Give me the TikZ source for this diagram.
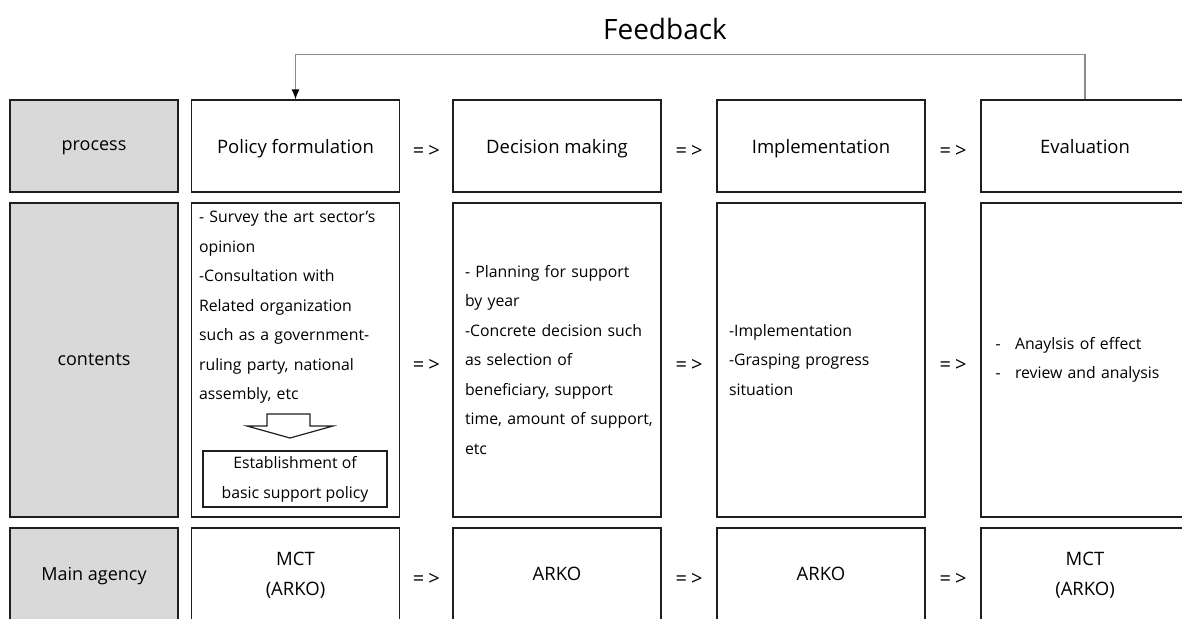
\documentclass[tikz,border=0pt]{standalone}
\usepackage{fontspec}
\setmainfont{Open Sans}
\usepackage{tikz}
\usetikzlibrary{arrows.meta,positioning,calc}

\definecolor{rowgray}{HTML}{D9D9D9}
\definecolor{fbgray}{HTML}{8C8C8C}
\definecolor{edge}{HTML}{1F1F1F}

\tikzset{
	headbox/.style={draw=edge, line width=1.2pt, fill=rowgray, minimum width=168pt, inner sep=0pt, text depth=0pt, font=\fontsize{18}{22}\selectfont},
	stagebox/.style={draw=edge, line width=1.2pt, fill=white, minimum width=208pt, minimum height=92pt, inner sep=0pt, text depth=0pt, align=center, font=\fontsize{18.5}{30}\selectfont},
	contbox/.style={draw=edge, line width=1.2pt, fill=white, minimum width=208pt, minimum height=314pt, text width=184pt, inner xsep=12pt, inner ysep=0pt, align=left, font=\fontsize{15.8}{29.5}\selectfont},
	flowsign/.style={inner sep=0pt, font=\fontsize{20}{20}\selectfont},
	fbline/.style={draw=fbgray, line width=1.2pt, -{Latex[black,length=10pt,width=8pt]}}
}

\begin{document}
\begin{tikzpicture}[x=1pt,y=-1pt]
	\clip (0,0) rectangle (1182,618);
	\node (fb) at (665,29) {\fontsize{28}{28}\selectfont Feedback};
	% left column
	\node[headbox, minimum height=92pt] (hproc) at (94,146) {process};
	\node[headbox, minimum height=314pt] (hcont) at (94,360) {contents};
	\node[headbox, minimum height=92pt] (hagent) at (94,574) {Main agency};
	% process row
	\node[stagebox] (pf) at (295.5,146) {Policy formulation};
	\node[stagebox] (dm) at (557,146) {Decision making};
	\node[stagebox] (im) at (821,146) {Implementation};
	\node[stagebox] (ev) at (1085,146) {Evaluation};
	% contents row
	\node[contbox] (cpf) at (295.5,360) {};
	\node[anchor=north west, inner sep=0pt, text width=190pt, align=left, font=\fontsize{15.8}{29.5}\selectfont] (tpf) at ($(cpf.north west)+(8,8)$)
		{- Survey the art sector’s\\opinion\\-Consultation with\\Related organization\\such as a government-\\ruling party, national\\assembly, etc};
	\draw[draw=edge, line width=1.2pt, fill=white] (267,414) -- (310,414) -- (310,426) -- (333,426) -- (290,438) -- (247,426) -- (267,426) -- cycle;
	\node[draw=edge, line width=1.2pt, minimum width=184pt, minimum height=56pt, inner sep=0pt, align=center, font=\fontsize{15.8}{30}\selectfont] (est) at (295,479) {Establishment of\\basic support policy};
	\node[contbox] (cdm) at (557,360) {- Planning for support\\by year\\-Concrete decision such\\as selection of\\beneficiary, support\\\mbox{time, amount of support,}\\etc};
	\node[contbox] (cim) at (821,360) {-Implementation\\-Grasping progress\\situation};
	\node[contbox] (cev) at (1085,360) {\makebox[22pt][l]{\,-}Anaylsis of effect\\\makebox[22pt][l]{\,-}review and analysis};
	% agency row
	\node[stagebox] (apf) at (295.5,574) {MCT\\(ARKO)};
	\node[stagebox] (adm) at (557,574) {ARKO};
	\node[stagebox] (aim) at (821,574) {ARKO};
	\node[stagebox] (aev) at (1085,574) {MCT\\(ARKO)};
	% flow signs
	\foreach \a/\b/\n in {pf/dm/1,dm/im/2,im/ev/3,cpf/cdm/4,cdm/cim/5,cim/cev/6,apf/adm/7,adm/aim/8,aim/aev/9}
		\node[flowsign] (s\n) at ($(\a.east)!.5!(\b.west)+(0,5)$) {=\kern4pt>};
	\draw[fbline] (ev.north) -- ++(0,-45) coordinate (fbr) -| (pf.north);
\end{tikzpicture}
\end{document}
